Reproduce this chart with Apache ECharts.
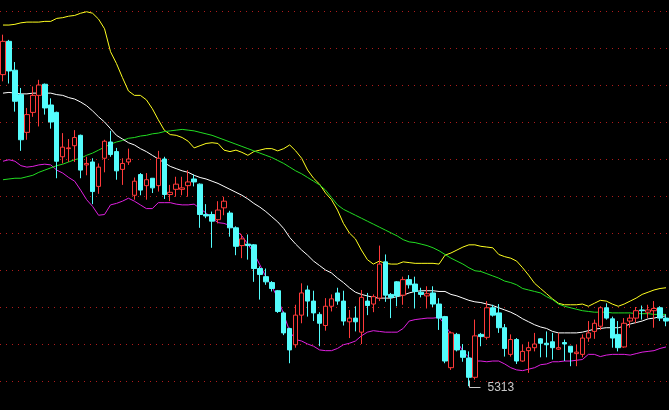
<!DOCTYPE html>
<html>
<head>
<meta charset="utf-8">
<style>
html,body{margin:0;padding:0;background:#000;}
#c{width:669px;height:410px;}
</style>
<script src="https://cdn.jsdelivr.net/npm/echarts@6/dist/echarts.min.js"></script>
</head>
<body>
<div id="c"></div>
<script>
// price axis tick values (gridlines)
const priceMin = 5320, priceMax = 5820, priceStep = 50;

const opens  = [5734,5779,5740,5707,5656,5683,5706,5721,5693,5683,5623,5634,5638,5652,5612,5616,5583,5621,5643,5630,5606,5616,5571,5599,5584,5594,5584,5620,5572,5579,5579,5584,5593,5586,5545,5545,5538,5554,5547,5527,5503,5505,5504,5472,5461,5453,5442,5412,5391,5369,5409,5443,5428,5410,5395,5421,5439,5428,5400,5405,5386,5428,5424,5432,5481,5437,5454,5436,5457,5451,5440,5435,5439,5424,5407,5338,5383,5361,5351,5325,5383,5379,5419,5412,5392,5356,5376,5347,5361,5365,5377,5371,5373,5363,5372,5367,5357,5356,5378,5387,5394,5419,5404,5383,5366,5401,5405,5416,5413,5415,5419,5405];
const closes = [5779,5739,5698,5646,5680,5706,5720,5689,5670,5617,5636,5635,5649,5605,5614,5576,5609,5644,5626,5604,5614,5620,5590,5578,5592,5581,5621,5572,5575,5586,5581,5589,5589,5545,5543,5536,5551,5563,5527,5502,5512,5503,5472,5464,5454,5445,5414,5385,5362,5409,5439,5428,5412,5398,5421,5431,5428,5401,5405,5400,5433,5422,5434,5478,5436,5433,5435,5457,5450,5441,5437,5438,5424,5405,5347,5385,5362,5352,5325,5381,5380,5419,5409,5392,5364,5376,5347,5360,5365,5370,5371,5369,5365,5365,5370,5359,5359,5378,5385,5398,5419,5405,5378,5365,5398,5405,5415,5415,5416,5418,5405,5401];
const lows   = [5725,5722,5684,5631,5646,5677,5664,5680,5661,5594,5614,5616,5616,5594,5598,5559,5573,5602,5623,5592,5585,5612,5565,5571,5565,5574,5576,5566,5563,5569,5571,5569,5583,5527,5540,5500,5533,5544,5515,5490,5486,5484,5454,5430,5450,5441,5412,5382,5344,5365,5398,5407,5401,5367,5388,5414,5423,5395,5378,5387,5370,5409,5413,5428,5427,5405,5421,5423,5445,5418,5433,5418,5420,5389,5344,5335,5360,5346,5313,5322,5367,5376,5407,5385,5353,5353,5343,5346,5331,5360,5352,5352,5349,5362,5347,5340,5340,5352,5373,5377,5389,5403,5365,5360,5365,5392,5398,5403,5405,5392,5401,5394];
const highs  = [5788,5781,5751,5716,5689,5718,5727,5722,5702,5684,5655,5647,5659,5653,5623,5621,5614,5646,5658,5635,5621,5634,5595,5601,5601,5594,5631,5623,5585,5596,5596,5605,5599,5587,5559,5549,5563,5569,5550,5529,5518,5518,5505,5475,5472,5455,5443,5414,5392,5423,5452,5449,5442,5413,5432,5437,5446,5442,5416,5421,5443,5439,5437,5503,5491,5439,5455,5461,5463,5461,5446,5448,5448,5432,5408,5387,5385,5370,5360,5403,5385,5428,5423,5424,5397,5383,5378,5369,5373,5385,5378,5387,5385,5385,5376,5367,5369,5383,5401,5403,5421,5425,5407,5401,5405,5410,5420,5422,5423,5428,5421,5410];

const upperBand = [5801,5801,5802,5804,5805,5805,5805,5806,5806,5810,5811,5813,5814,5817,5819,5817,5809,5796,5765,5749,5730,5712,5706,5706,5700,5688,5673,5659,5653,5652,5649,5644,5635,5638,5641,5642,5641,5632,5630,5632,5629,5625,5630,5632,5634,5634,5631,5634,5639,5631,5621,5605,5594,5586,5574,5565,5551,5533,5520,5512,5497,5484,5478,5482,5479,5478,5478,5481,5480,5479,5479,5479,5479,5478,5490,5493,5497,5501,5504,5504,5502,5501,5500,5491,5488,5486,5482,5473,5463,5452,5445,5438,5431,5425,5423,5423,5423,5424,5421,5425,5429,5428,5424,5421,5424,5428,5432,5437,5440,5443,5445,5446];
const midBand   = [5709,5710,5709,5708,5708,5709,5709,5709,5709,5707,5706,5703,5701,5697,5692,5685,5677,5670,5661,5652,5647,5642,5639,5634,5630,5625,5620,5615,5610,5607,5604,5602,5598,5595,5593,5590,5587,5583,5579,5575,5571,5566,5560,5555,5549,5542,5535,5526,5514,5505,5497,5490,5482,5476,5470,5466,5459,5453,5446,5440,5437,5435,5433,5432,5432,5432,5434,5436,5439,5441,5442,5442,5442,5441,5441,5437,5435,5432,5429,5427,5426,5424,5422,5419,5416,5413,5409,5404,5400,5396,5393,5391,5387,5385,5385,5385,5385,5386,5388,5390,5391,5392,5392,5392,5394,5397,5399,5401,5404,5405,5407,5408];
const lowerBand = [5617,5619,5617,5611,5609,5610,5612,5613,5612,5605,5601,5595,5590,5578,5565,5556,5544,5545,5558,5560,5563,5567,5563,5558,5553,5553,5561,5561,5561,5559,5558,5558,5559,5553,5547,5540,5534,5533,5530,5524,5516,5505,5493,5477,5461,5448,5432,5410,5387,5376,5374,5370,5367,5362,5361,5361,5364,5369,5371,5374,5381,5386,5388,5387,5386,5386,5386,5391,5401,5403,5404,5405,5405,5406,5396,5383,5374,5360,5352,5347,5347,5346,5347,5347,5343,5338,5335,5334,5336,5338,5342,5343,5346,5346,5347,5347,5348,5349,5356,5356,5353,5355,5356,5356,5356,5355,5357,5359,5360,5361,5364,5366];
const longMA    = [5592,5593,5594,5594,5596,5598,5602,5605,5608,5611,5613,5616,5619,5621,5625,5628,5632,5636,5640,5643,5645,5648,5649,5651,5652,5654,5655,5657,5658,5659,5660,5659,5658,5656,5654,5652,5649,5646,5643,5640,5637,5634,5631,5628,5625,5622,5618,5614,5609,5604,5600,5595,5590,5585,5578,5568,5558,5552,5548,5544,5540,5536,5532,5528,5524,5520,5516,5511,5508,5507,5505,5503,5500,5496,5491,5486,5482,5478,5473,5469,5468,5465,5462,5459,5455,5453,5450,5445,5443,5441,5439,5434,5430,5424,5421,5419,5417,5415,5414,5413,5413,5413,5412,5412,5412,5412,5411,5411,5411,5410,5410,5410];

const lowLabel = 5313;
const lowIndex = lows.indexOf(lowLabel);

const categories = opens.map((_, i) => String(i + 1));
const candleData = opens.map((o, i) => [o, closes[i], lows[i], highs[i]]);

const chart = echarts.init(document.getElementById('c'), null, {renderer: 'canvas'});

function lineSeries(name, data, color) {
  return {
    name, type: 'line', data, symbol: 'none', smooth: false, clip: false,
    lineStyle: {color, width: 1}, z: 3, silent: true
  };
}

chart.setOption({
  backgroundColor: '#000000',
  animation: false,
  grid: {left: -3, right: 0, top: 11, bottom: 29, containLabel: false},
  xAxis: {
    type: 'category', data: categories, boundaryGap: true,
    axisLine: {show: false}, axisTick: {show: false}, axisLabel: {show: false},
    splitLine: {show: false}
  },
  yAxis: {
    type: 'value', min: priceMin, max: priceMax, interval: priceStep, scale: true,
    axisLine: {show: false}, axisTick: {show: false}, axisLabel: {show: false},
    splitLine: {show: true, lineStyle: {color: '#b01c1c', width: 1, type: [1, 5]}}
  },
  series: [
    lineSeries('upper', upperBand, '#ffff20'),
    lineSeries('lower', lowerBand, '#e020e0'),
    lineSeries('ma', longMA, '#22dd22'),
    lineSeries('mid', midBand, '#ffffff'),
    {
      name: 'k', type: 'candlestick', data: candleData, barWidth: 5, clip: false, z: 4,
      itemStyle: {
        color: '#000000', borderColor: '#ff3a3a',
        color0: '#54fcfc', borderColor0: '#54fcfc',
        borderWidth: 1
      }
    }
  ]
});

// low-price annotation placed through the chart's own scales
const p = chart.convertToPixel({seriesIndex: 4}, [lowIndex, lowLabel]);
const x0 = Math.round(p[0]) + 0.5;
const y0 = Math.round(p[1]) + 0.5;
chart.setOption({
  graphic: [
    {
      type: 'polyline', silent: true, z: 10,
      shape: {points: [[x0, y0 - 6], [x0, y0 + 1], [x0 + 11, y0 + 1]]},
      style: {stroke: '#c8c8c8', lineWidth: 1, fill: null}
    },
    {
      type: 'text', silent: true, z: 10,
      x: x0 + 18, y: y0 + 1,
      style: {
        text: String(lowLabel), fill: '#c8c8c8',
        font: '12px "Liberation Sans", Arial, sans-serif',
        textVerticalAlign: 'middle', verticalAlign: 'middle'
      }
    }
  ]
});
</script>
</body>
</html>
